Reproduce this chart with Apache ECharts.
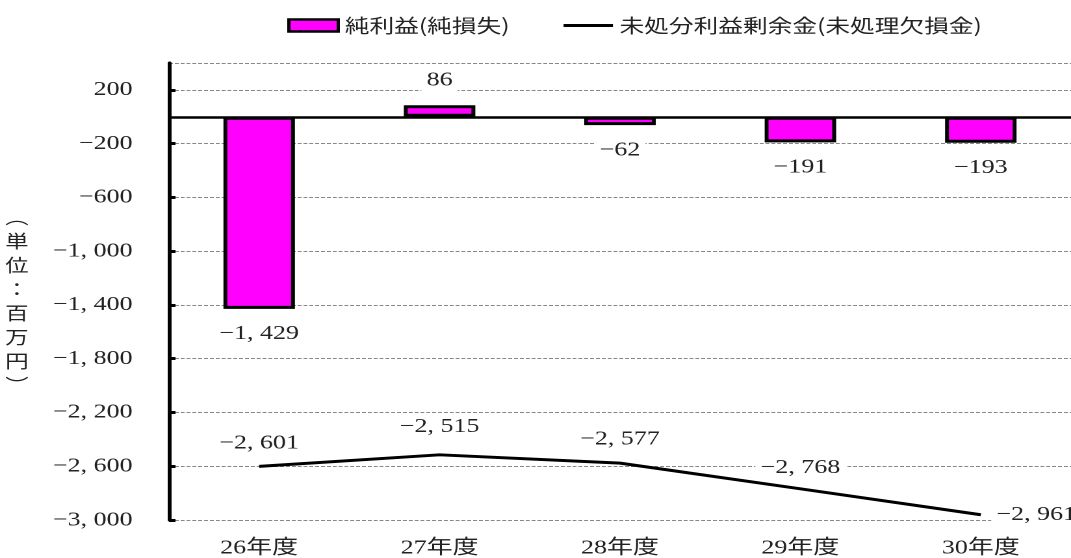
<!DOCTYPE html>
<html>
<head>
<meta charset="utf-8">
<script src="https://cdn.jsdelivr.net/npm/echarts@6/dist/echarts.min.js"></script>
<style>
  html, body { margin: 0; padding: 0; background: #fff; overflow: hidden; }
  #wrap { width: 1071px; height: 558px; overflow: hidden; }
  /* the chart is laid out on a narrower canvas and widened to the page width,
     which gives the wide, flat lettering of the printed figure */
  #chart { width: 824px; height: 558px; transform: scaleX(1.29976); transform-origin: 0 0; }
</style>
</head>
<body>
<div id="wrap"><div id="chart"></div></div>
<script>
// 年度別の純利益と未処分利益剰余金（単位：百万円）
const categories = ['26年度', '27年度', '28年度', '29年度', '30年度'];
const netIncome = [-1429, 86, -62, -191, -193];
const retainedEarnings = [-2601, -2515, -2577, -2768, -2961];
const seriesNames = ['純利益(純損失)', '未処分利益剰余金(未処理欠損金)'];
const axisUnit = '︵単位：百万円︶';

const SERIF = '"Liberation Serif", "Noto Sans CJK JP", serif';
const CJK = '"Noto Sans CJK JP", sans-serif';

// 負数は長いマイナス記号、桁区切りは「, 」
function fmt(v) {
  const s = Math.abs(v).toString().replace(/\B(?=(\d{3})+(?!\d))/g, ', ');
  return (v < 0 ? '−' : '') + s;
}

const labelBase = {
  show: true,
  fontFamily: SERIF,
  fontSize: 20,
  color: '#222',
  backgroundColor: '#fff',
  padding: [1, 4],
  formatter: p => fmt(p.value)
};

// 折れ線ラベルの配置（点ごとの微調整）
const lineLabelPlacement = [
  { position: 'top', distance: 12 },
  { position: 'top', distance: 17 },
  { position: 'top', distance: 13 },
  { position: 'top', distance: 10 },
  { position: 'right', distance: 8, offset: [0, -16] }
];

const chart = echarts.init(document.getElementById('chart'), null, { renderer: 'canvas', devicePixelRatio: 2 });

chart.setOption({
  animation: false,
  backgroundColor: '#fff',
  legend: {
    top: 11,
    left: 216,
    itemWidth: 38,
    itemHeight: 12,
    itemGap: 40,
    itemTextGap: 3,
    textStyle: { fontFamily: CJK, fontSize: 19, color: '#222' },
    data: [
      { name: seriesNames[0], icon: 'rect', itemStyle: { color: '#FF00FF', borderColor: '#000', borderWidth: 2.5 } },
      // 折れ線の凡例は線のみ（記号は透明）
      { name: seriesNames[1], itemStyle: { opacity: 0 }, lineStyle: { color: '#000', width: 3 } }
    ]
  },
  grid: { left: 130, top: 63, width: 702, bottom: 38 },
  xAxis: {
    type: 'category',
    data: categories,
    axisLine: { show: false, onZero: false },
    axisTick: { show: false },
    axisLabel: { margin: 18, fontFamily: SERIF, fontSize: 20, color: '#222' }
  },
  yAxis: {
    type: 'value',
    min: -3000,
    max: 400,
    interval: 400,
    axisLine: { show: true, lineStyle: { color: '#000', width: 3 } },
    axisTick: { show: true, inside: true, length: 5, lineStyle: { color: '#000', width: 3 } },
    axisLabel: {
      margin: 28,
      showMaxLabel: false,
      fontFamily: SERIF,
      fontSize: 20,
      color: '#222',
      formatter: v => fmt(v)
    },
    splitLine: { show: true, lineStyle: { color: '#888', width: 1, type: [3, 1.5] } }
  },
  graphic: [{
    type: 'text',
    left: 4,
    top: 205,
    style: {
      text: axisUnit.split('').join('\n'),
      fontFamily: CJK,
      fontSize: 18,
      lineHeight: 24,
      fill: '#222',
      textAlign: 'center'
    }
  }],
  series: [
    {
      name: seriesNames[0],
      type: 'bar',
      barWidth: 55,
      data: netIncome,
      itemStyle: { color: '#FF00FF', borderColor: '#000', borderWidth: 3 },
      label: Object.assign({}, labelBase, { position: 'outside', distance: 14 }),
      markLine: {
        silent: true,
        symbol: 'none',
        label: { show: false },
        lineStyle: { color: '#000', width: 2.5, type: 'solid' },
        data: [{ yAxis: 0 }]
      },
      z: 2
    },
    {
      name: seriesNames[1],
      type: 'line',
      data: retainedEarnings,
      symbol: 'none',
      lineStyle: { color: '#000', width: 3 },
      itemStyle: { color: '#000' },
      z: 3
    },
    {
      // 折れ線の値ラベル（点そのものは描かない）
      name: 'retainedLabels',
      type: 'scatter',
      data: retainedEarnings.map((v, i) => ({ value: v, label: lineLabelPlacement[i] })),
      symbolSize: 0,
      itemStyle: { color: '#000', opacity: 1 },
      label: Object.assign({}, labelBase),
      labelLayout: { hideOverlap: false },
      emphasis: { disabled: true },
      silent: true,
      z: 4
    }
  ]
});
</script>
</body>
</html>
